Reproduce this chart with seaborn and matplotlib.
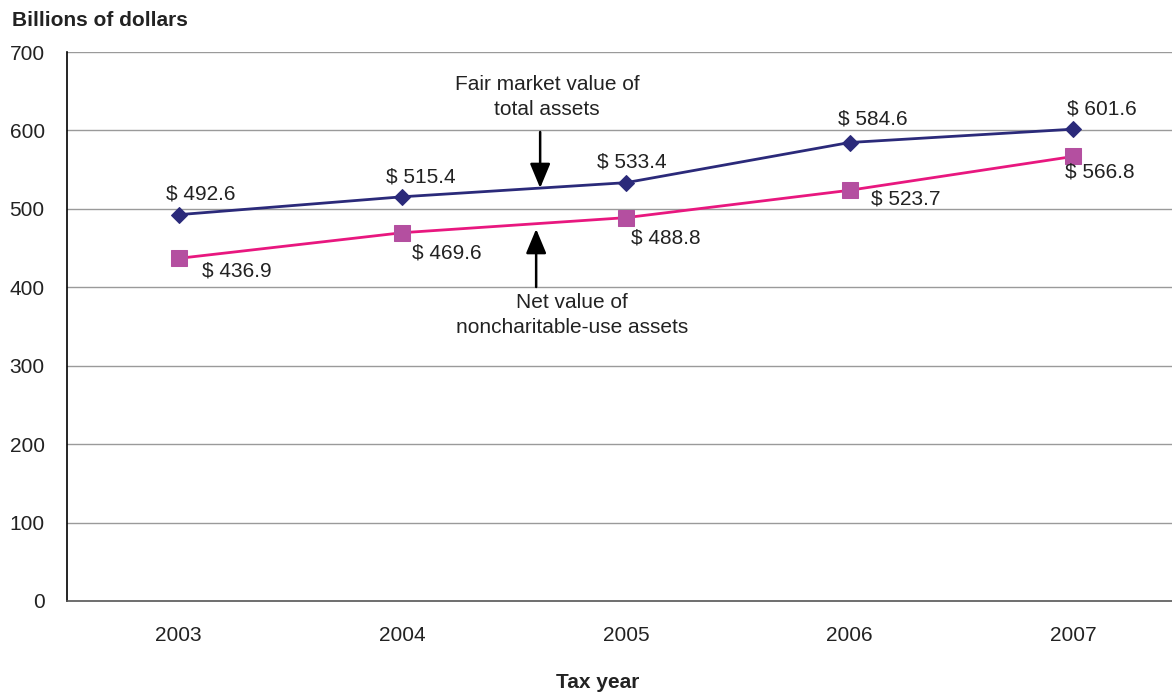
import matplotlib
matplotlib.use("Agg")
import matplotlib.pyplot as plt
import seaborn as sns
import pandas as pd

years = ["2003", "2004", "2005", "2006", "2007"]
fair_market = [492.6, 515.4, 533.4, 584.6, 601.6]
net_noncharitable = [436.9, 469.6, 488.8, 523.7, 566.8]
y_ticks = [0, 100, 200, 300, 400, 500, 600, 700]

sns.set_theme(style="white")
plt.rcParams['font.family'] = ['Liberation Sans', 'DejaVu Sans']

FS = 15

fig = plt.figure(figsize=(11.72, 6.94), dpi=100)
ax = fig.add_axes([67/1172, 93/694, (1172-67)/1172, 549/694])

pos = list(range(len(years)))
df_fm = pd.DataFrame({"x": pos, "y": fair_market})
df_nv = pd.DataFrame({"x": pos, "y": net_noncharitable})

for yv in y_ticks[1:]:
    ax.axhline(yv, color="#9a9a9a", lw=1.0, zorder=0)

sns.lineplot(data=df_fm, x="x", y="y", ax=ax, color="#2B2A7A", lw=2.0,
             marker="D", markersize=8.5, markerfacecolor="#2B2A7A",
             markeredgecolor="#2B2A7A", zorder=3)
sns.lineplot(data=df_nv, x="x", y="y", ax=ax, color="#E8177F", lw=2.0,
             marker="s", markersize=11, markerfacecolor="#B44FA0",
             markeredgecolor="#B44FA0", zorder=3)

ax.set_xlim(-0.5, 4 + 99/224)
ax.set_ylim(0, 700)
ax.set_yticks(y_ticks)
ax.set_yticklabels([str(v) for v in y_ticks])
ax.set_xticks(pos)
ax.set_xticklabels(years)
ax.tick_params(axis="both", length=0, labelsize=FS, colors="#222222")
ax.tick_params(axis="y", pad=16)
ax.tick_params(axis="x", pad=18)
ax.set_xlabel("")
ax.set_ylabel("")

for s in ["top", "right"]:
    ax.spines[s].set_visible(False)
ax.spines["left"].set_color("black")
ax.spines["left"].set_linewidth(1.2)
ax.spines["bottom"].set_color("#555555")
ax.spines["bottom"].set_linewidth(1.2)

# value labels (offsets in pixels)
fm_off = [(22, 21), (18, 20), (6, 21), (23, 24), (29, 20)]
nv_off = [(58, -13), (44, -20), (40, -20), (56, -9), (27, -16)]
for i, v in enumerate(fair_market):
    ax.annotate(f"$ {v:.1f}", (pos[i], v), xytext=fm_off[i], textcoords="offset pixels",
                ha="center", va="center", fontsize=FS, color="#222222")
for i, v in enumerate(net_noncharitable):
    ax.annotate(f"$ {v:.1f}", (pos[i], v), xytext=nv_off[i], textcoords="offset pixels",
                ha="center", va="center", fontsize=FS, color="#222222")

def px2x(px):
    return (px - 178) / 224.0

def py2y(py):
    return (601 - py) * 700 / 549.0

ax.annotate("", xy=(px2x(540), py2y(188)), xytext=(px2x(540), py2y(132)),
            arrowprops=dict(arrowstyle="-|>,head_length=0.6,head_width=0.25", color="black",
                            lw=1.8, mutation_scale=25, shrinkA=0, shrinkB=0), zorder=4)
ax.text(px2x(547), py2y(97), "Fair market value of\ntotal assets", ha="center", va="center",
        fontsize=FS, color="#222222", linespacing=1.35)
ax.annotate("", xy=(px2x(536), py2y(229)), xytext=(px2x(536), py2y(287)),
            arrowprops=dict(arrowstyle="-|>,head_length=0.6,head_width=0.25", color="black",
                            lw=1.8, mutation_scale=25, shrinkA=0, shrinkB=0), zorder=4)
ax.text(px2x(572), py2y(315), "Net value of\nnoncharitable-use assets", ha="center", va="center",
        fontsize=FS, color="#222222", linespacing=1.35)

fig.text(12/1172, 1 - 20/694, "Billions of dollars", ha="left", va="center",
         fontsize=FS, fontweight="bold", color="#222222")
fig.text(598/1172, 1 - 682/694, "Tax year", ha="center", va="center",
         fontsize=FS, fontweight="bold", color="#222222")

fig.savefig("out.png", dpi=100)
